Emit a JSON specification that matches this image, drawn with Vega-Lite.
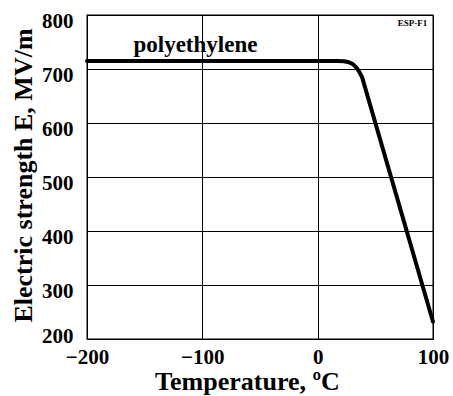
{
  "$schema": "https://vega.github.io/schema/vega-lite/v6.json",
  "width": 346,
  "height": 324,
  "autosize": {"type": "none"},
  "padding": {"left": 87, "top": 15, "right": 20, "bottom": 57},
  "background": "white",
  "config": {
    "view": {"stroke": "#555555", "strokeWidth": 1.5},
    "font": "Liberation Serif"
  },
  "datasets": {
    "curve": [
      {"t": -200, "e": 715},
      {"t": 17, "e": 715},
      {"t": 23, "e": 714.3},
      {"t": 27, "e": 712.5},
      {"t": 30.5, "e": 709},
      {"t": 33.5, "e": 703},
      {"t": 36, "e": 695},
      {"t": 38.5, "e": 685},
      {"t": 100, "e": 232}
    ],
    "labels": [
      {"t": -106, "e": 744, "text": "polyethylene", "kind": "big"},
      {"t": 95, "e": 785, "text": "ESP-F1", "kind": "small"}
    ]
  },
  "layer": [
    {
      "data": {"name": "curve"},
      "mark": {"type": "line", "color": "black", "strokeWidth": 4, "interpolate": "linear", "strokeCap": "round", "strokeJoin": "round"},
      "encoding": {
        "x": {
          "field": "t", "type": "quantitative",
          "scale": {"domain": [-200, 100], "nice": false},
          "axis": {
            "values": [-200, -100, 0, 100],
            "title": "Temperature, ºC",
            "titleFont": "Liberation Serif", "titleFontWeight": "bold", "titleFontSize": 26, "titleColor": "black",
            "titlePadding": 1, "titleX": 160,
            "labelFont": "Liberation Serif", "labelFontWeight": "bold", "labelFontSize": 21, "labelColor": "black",
            "labelPadding": 7, "labelFlush": false,
            "ticks": false, "domain": false,
            "grid": true, "gridColor": "black", "gridWidth": 1, "gridOpacity": 1
          }
        },
        "y": {
          "field": "e", "type": "quantitative",
          "scale": {"domain": [200, 800], "nice": false},
          "axis": {
            "values": [200, 300, 400, 500, 600, 700, 800],
            "title": "Electric strength E, MV/m",
            "titleFont": "Liberation Serif", "titleFontWeight": "bold", "titleFontSize": 26, "titleColor": "black",
            "titleX": -64, "titleY": 160, "titleBaseline": "middle",
            "labelFont": "Liberation Serif", "labelFontWeight": "bold", "labelFontSize": 21, "labelColor": "black",
            "labelPadding": 14,
            "labelOffset": {"condition": {"test": "datum.value === 200", "value": -3}, "value": 6},
            "labelFlush": false,
            "ticks": false, "domain": false,
            "grid": true, "gridColor": "black", "gridWidth": 1, "gridOpacity": 1
          }
        }
      }
    },
    {
      "data": {"name": "labels"},
      "transform": [{"filter": "datum.kind === 'big'"}],
      "mark": {"type": "text", "font": "Liberation Serif", "fontWeight": "bold", "fontSize": 23, "color": "black", "align": "center", "baseline": "middle"},
      "encoding": {
        "x": {"field": "t", "type": "quantitative"},
        "y": {"field": "e", "type": "quantitative"},
        "text": {"field": "text"}
      }
    },
    {
      "data": {"name": "labels"},
      "transform": [{"filter": "datum.kind === 'small'"}],
      "mark": {"type": "text", "font": "Liberation Serif", "fontWeight": "bold", "fontSize": 9, "color": "black", "align": "right", "baseline": "middle"},
      "encoding": {
        "x": {"field": "t", "type": "quantitative"},
        "y": {"field": "e", "type": "quantitative"},
        "text": {"field": "text"}
      }
    }
  ]
}
